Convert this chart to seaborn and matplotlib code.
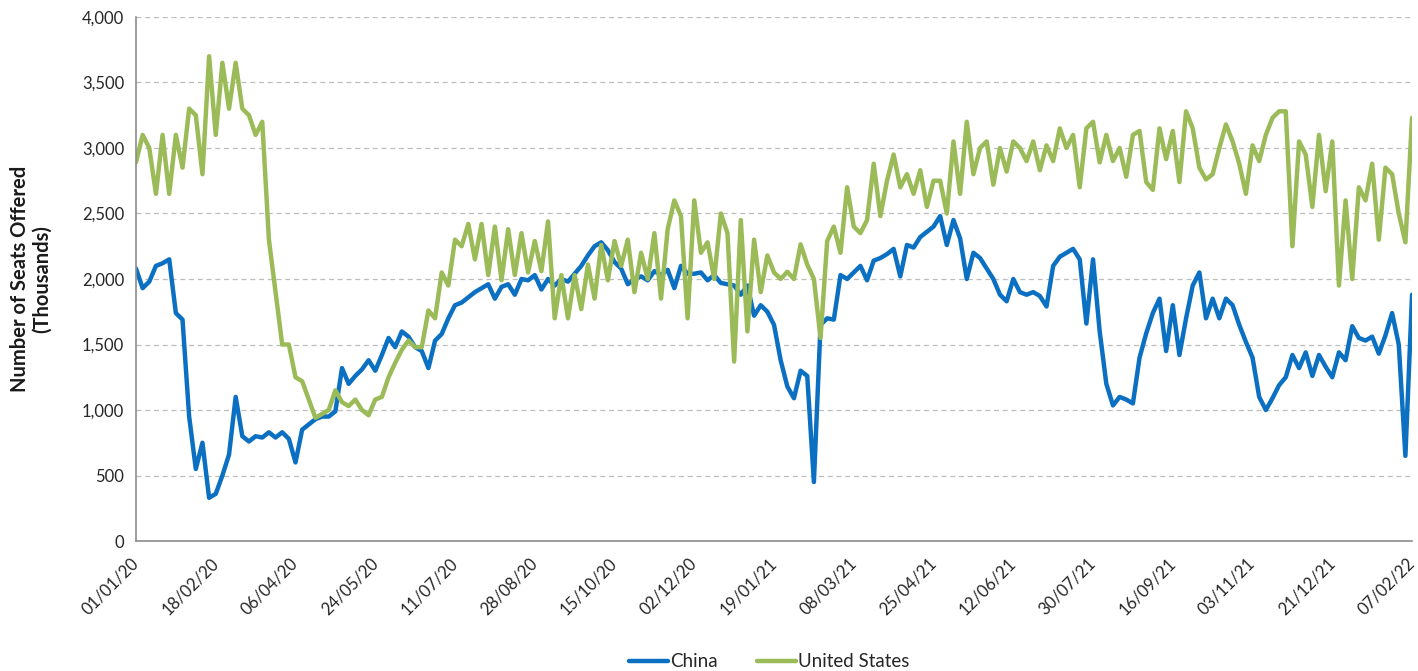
import pandas as pd
import matplotlib
matplotlib.use("Agg")
import matplotlib.pyplot as plt
from matplotlib.lines import Line2D
from matplotlib.ticker import FuncFormatter, MultipleLocator
import seaborn as sns

# -----------------------------
# Data (thousand seats offered, read every 4 days from 01/01/20 to 07/02/22)
# -----------------------------
dates = pd.date_range("2020-01-01", "2022-02-07", freq="4D")

china = [
    2080, 1930, 1980, 2100, 2120, 2150, 1740, 1690, 950, 550, 750, 330, 360,
    500, 660, 1100, 800, 760, 800, 790, 830, 790, 830, 780, 600,
    850, 890, 930, 950, 950, 990, 1320, 1200, 1260, 1310, 1380, 1300,
    1420, 1550, 1480, 1600, 1560, 1480, 1450, 1320, 1530, 1580, 1700, 1800,
    1820, 1860, 1900, 1930, 1960, 1850, 1940, 1960, 1880, 2000, 1990, 2030,
    1920, 2000, 1950, 2000, 1980, 2040, 2100, 2180, 2250, 2280, 2220, 2130,
    2080, 1960, 2000, 2020, 1990, 2060, 2030, 2070, 1930, 2100, 2040, 2040,
    2050, 1990, 2030, 1970, 1960, 1950, 1880, 1950, 1720, 1800, 1750, 1650,
    1380, 1180, 1090, 1300, 1260, 450, 1650, 1700, 1690, 2030, 2000, 2050,
    2100, 1990, 2140, 2160, 2190, 2230, 2020, 2260, 2240, 2320, 2360, 2400,
    2480, 2260, 2450, 2310, 2000, 2200, 2160, 2080, 2000, 1880, 1830, 2000,
    1900, 1880, 1900, 1870, 1790, 2100, 2170, 2200, 2230, 2150, 1660, 2150,
    1600, 1200, 1035, 1100, 1080, 1050, 1400, 1585, 1740, 1850, 1450, 1800,
    1420, 1700, 1950, 2050, 1700, 1850, 1700, 1850, 1800, 1650, 1520, 1400,
    1100, 1000, 1090, 1190, 1250, 1420, 1320, 1440, 1260, 1420, 1330, 1250,
    1440, 1380, 1640, 1550, 1530, 1560, 1430, 1570, 1740, 1500, 650, 1880,
]

united_states = [
    2890, 3100, 3000, 2650, 3100, 2650, 3100, 2850, 3300, 3250, 2800, 3700, 3100,
    3650, 3300, 3650, 3300, 3250, 3100, 3200, 2300, 1900, 1500, 1500, 1250,
    1220, 1080, 940, 970, 1000, 1150, 1060, 1030, 1080, 1000, 960, 1080,
    1100, 1250, 1360, 1460, 1530, 1480, 1480, 1760, 1700, 2050, 1950, 2300,
    2250, 2420, 2150, 2420, 2030, 2400, 1990, 2380, 2030, 2350, 2050, 2290,
    2060, 2440, 1700, 2030, 1700, 2030, 1770, 2110, 1850, 2260, 1990, 2290,
    2100, 2300, 1900, 2200, 2000, 2350, 1850, 2380, 2600, 2480, 1700, 2600,
    2200, 2280, 2000, 2500, 2350, 1370, 2450, 1600, 2300, 1900, 2180, 2050,
    2000, 2055, 2000, 2265, 2110, 2000, 1550, 2290, 2400, 2200, 2700, 2400,
    2350, 2450, 2880, 2480, 2750, 2950, 2700, 2800, 2650, 2830, 2550, 2750,
    2750, 2500, 3050, 2650, 3200, 2800, 3000, 3050, 2720, 3000, 2820, 3050,
    3000, 2900, 3050, 2830, 3020, 2900, 3150, 3000, 3100, 2700, 3150, 3200,
    2890, 3100, 2900, 3000, 2780, 3100, 3130, 2740, 2680, 3150, 2915, 3130,
    2740, 3280, 3150, 2850, 2760, 2800, 3000, 3180, 3050, 2880, 2650, 3020,
    2900, 3100, 3230, 3280, 3280, 2250, 3050, 2950, 2550, 3100, 2670, 3050,
    1950, 2600, 2000, 2700, 2600, 2880, 2300, 2850, 2800, 2500, 2280, 3230,
]

countries = ["China", "United States"]
colors = ["#0B70C2", "#9BBB59"]
tick_dates = pd.date_range("2020-01-01", "2022-02-07", freq="48D")

df = pd.concat([
    pd.DataFrame({"date": dates, "seats": china, "country": "China"}),
    pd.DataFrame({"date": dates, "seats": united_states, "country": "United States"}),
])

# -----------------------------
# Plot
# -----------------------------
sns.set_theme(style="white")
plt.rcParams["font.family"] = ["Lato", "DejaVu Sans"]

fig = plt.figure(figsize=(14.18, 6.71), dpi=100)
ax = fig.add_axes([0.0959, 0.1937, 0.8999, 0.781])

sns.lineplot(data=df, x="date", y="seats", hue="country",
             palette=dict(zip(countries, colors)), linewidth=3.2,
             legend=False, ax=ax)

ax.set_xlim(dates[0], dates[-1])
ax.set_ylim(0, 4000)
ax.yaxis.set_major_locator(MultipleLocator(500))
ax.yaxis.set_major_formatter(FuncFormatter(lambda v, p: f"{int(v):,}"))
ax.set_xticks(tick_dates)
ax.set_xticklabels([d.strftime("%d/%m/%y") for d in tick_dates])
plt.setp(ax.get_xticklabels(), rotation=45, ha="right", va="center",
         rotation_mode="anchor", fontsize=12)

ax.yaxis.grid(True, linestyle=(0, (4, 3)), color="#bdbdbd", linewidth=0.9)
ax.xaxis.grid(False)
for s in ["top", "right"]:
    ax.spines[s].set_visible(False)
for s in ["left", "bottom"]:
    ax.spines[s].set_color("#8c8c8c")
    ax.spines[s].set_linewidth(1.2)
ax.tick_params(axis="both", direction="out", length=5, width=1,
               color="#8c8c8c", labelcolor="#262626")
ax.tick_params(axis="y", labelsize=12)
ax.tick_params(axis="x", pad=9)

ax.set_xlabel("")
ax.set_ylabel("Number of Seats Offered\n(Thousands)", fontsize=14.5,
              fontweight="bold", color="#1a1a1a", linespacing=1.1)
ax.yaxis.set_label_coords(-0.066, 0.5)

handles = [Line2D([], [], color=c, linewidth=3.2) for c in colors]
fig.legend(handles, countries, loc="center", bbox_to_anchor=(0.5423, 0.014),
           ncol=2, frameon=False, fontsize=13.5, handlelength=2.1,
           handletextpad=0.1, columnspacing=2.1)

fig.savefig("out.png", dpi=100)
